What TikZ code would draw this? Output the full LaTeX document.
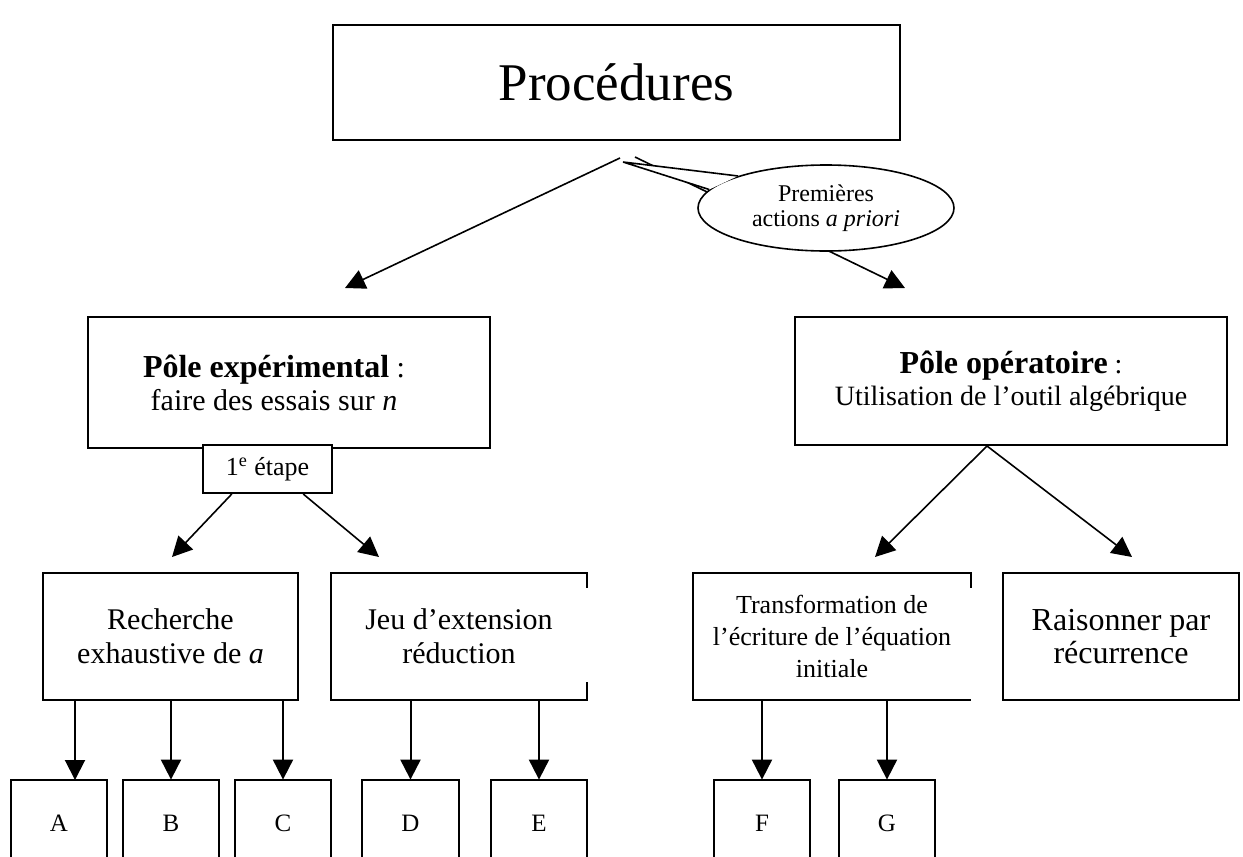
\documentclass[tikz,border=0pt]{standalone}
\usepackage{fontspec}
\setmainfont{Liberation Serif}
\usetikzlibrary{arrows.meta,shapes.geometric}
\begin{document}
\begin{tikzpicture}[x=0.5pt,y=-0.5pt]
	\tikzstyle{box}=[draw=black,line width=1pt,inner sep=0pt,align=center]
	\tikzstyle{open}=[inner sep=0pt,align=center]
	\tikzstyle{letter}=[inner sep=0pt,minimum width=48pt,minimum height=43pt,font=\fontsize{12.5}{15}\selectfont]
	\tikzstyle{edge}=[draw,line width=1pt,-{Triangle[length=10pt,width=10pt]}]
	\tikzstyle{diag}=[draw,line width=0.8pt,-{Triangle[length=10pt,width=10pt]}]
	\useasboundingbox (0,0) rectangle (1243,857);
	\clip (0,0) rectangle (1243,857);

	\node [box,minimum width=283.5pt,minimum height=57.5pt,font=\fontsize{26.5}{30}\selectfont] (proc) at (616.5,82.5) {Procédures};

	% premieres actions
	\coordinate (pl) at (620,158);
	\coordinate (pr) at (635,157);
	\coordinate (tl) at (345,288);
	\coordinate (tr) at (905,288);
	\path[diag] (pl) -- (tl);
	\path[diag] (pr) -- (tr);

	\node [ellipse,draw,line width=0.8pt,fill=white,inner sep=0pt,minimum width=128pt,minimum height=43pt,align=center,font=\fontsize{12}{12.5}\selectfont] (prem) at (826,208) {Premières\\actions \textit{a priori}};
	\coordinate (ptip) at (623,162);
	\fill[white] (ptip) -- (prem.160) -- (prem.171) -- cycle;
	\draw[line width=0.8pt] (prem.160) -- (ptip) -- (prem.171);

	% les deux poles
	\node [box,minimum width=201pt,minimum height=65.5pt] (exp) at (289,382.5) {};
	\node [open,font=\fontsize{15}{16.5}\selectfont] (expt) at ([xshift=-7.5pt]exp.center) {{\fontsize{16}{16.5}\selectfont\bfseries Pôle expérimental} :\\faire des essais sur \textit{n}};
	\node [box,fill=white,minimum width=64.5pt,minimum height=24pt,font=\fontsize{13}{15}\selectfont] (etape) at (267.5,469) {1\textsuperscript{e} étape};
	\node [box,minimum width=216pt,minimum height=64pt,font=\fontsize{14}{16}\selectfont] (opera) at (1011,381) {{\fontsize{16}{16}\selectfont\bfseries Pôle opératoire} :\\Utilisation de l’outil algébrique};

	% procedures
	\node [box,minimum width=127.5pt,minimum height=63.5pt,font=\fontsize{15}{17}\selectfont] (rech) at (170.5,636.5) {Recherche\\exhaustive de \textit{a}};
	\node [open,minimum width=128pt,minimum height=63.5pt,font=\fontsize{15}{17}\selectfont] (jeu) at (459,636.5) {Jeu d’extension\\réduction};
	\node [open,minimum width=139pt,minimum height=63.5pt,font=\fontsize{13}{16}\selectfont] (trans) at (832,636.5) {Transformation de\\l’écriture de l’équation\\initiale};
	\node [box,minimum width=118pt,minimum height=63.5pt,font=\fontsize{16}{16.5}\selectfont] (rais) at (1121,636.5) {Raisonner par\\récurrence};
	\draw[line width=1pt] ([yshift=-7.5pt]jeu.north east) -- (jeu.north east) -- (jeu.north west) -- (jeu.south west) -- (jeu.south east) -- ([yshift=9pt]jeu.south east);
	\draw[line width=1pt] ([yshift=-7.5pt]trans.north east) -- (trans.north east) -- (trans.north west) -- (trans.south west) -- (trans.south east);

	\foreach \n/\lab/\x in {a/A/59,b/B/171,c/C/283,d/D/410.5,e/E/539,f/F/762,g/G/887}{
		\node [letter] (\n) at (\x,823) {\lab};
		\draw[line width=1pt] (\n.south west) -- (\n.north west) -- (\n.north east) -- (\n.south east);
	}

	\coordinate (el) at (172,557);
	\coordinate (er) at (379,557);
	\path[diag] (etape.-145) -- (el);
	\path[diag] (etape.-35) -- (er);
	\coordinate (ol) at (875,557);
	\coordinate (or) at (1132,557);
	\path[diag] ([xshift=-12pt]opera.south) -- (ol);
	\path[diag] ([xshift=-12pt]opera.south) -- (or);

	\coordinate (aa) at (75,780);
	\path[edge] (aa |- rech.south) -- (aa);
	\path[edge] (b |- rech.south) -- (b.north);
	\path[edge] (c |- rech.south) -- (c.north);
	\path[edge] (d |- jeu.south) -- (d.north);
	\path[edge] (e |- jeu.south) -- (e.north);
	\path[edge] (f |- trans.south) -- (f.north);
	\path[edge] (g |- trans.south) -- (g.north);
\end{tikzpicture}
\end{document}
